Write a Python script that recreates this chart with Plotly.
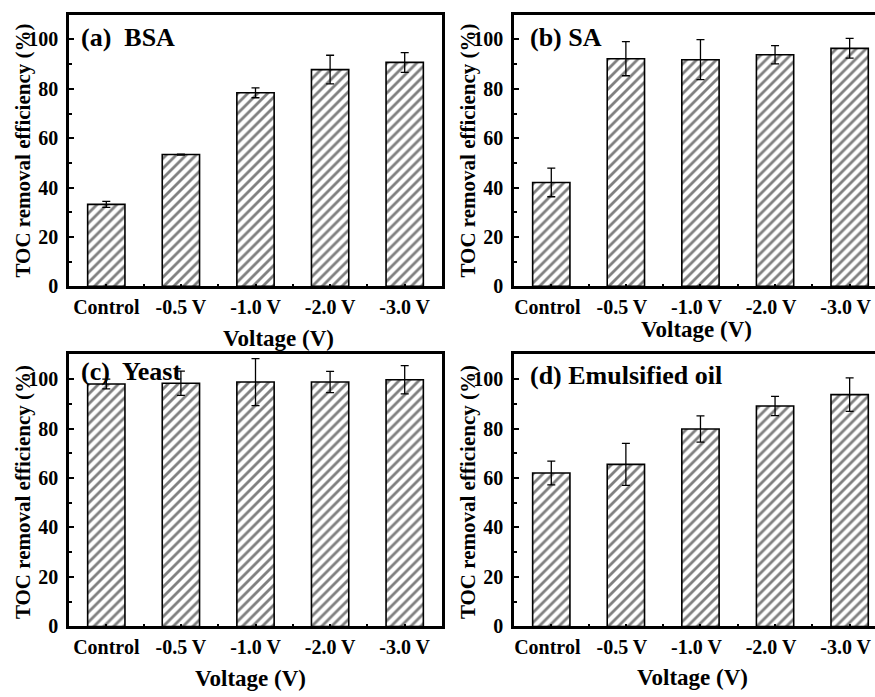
import plotly.graph_objects as go

categories = ["Control", "-0.5 V", "-1.0 V", "-2.0 V", "-3.0 V"]
bsa = [33.2, 53.4, 78.4, 87.8, 90.7]
bsa_err = [1.2, 0.2, 2.0, 5.8, 4.0]
sa = [42.1, 92.2, 91.8, 93.8, 96.4]
sa_err = [5.8, 6.9, 8.1, 3.7, 4.0]
yeast = [98.0, 98.3, 98.8, 98.8, 99.7]
yeast_err = [2.0, 4.9, 9.5, 4.3, 5.7]
oil = [62.0, 65.5, 79.8, 89.1, 93.7]
oil_err = [4.8, 8.5, 5.3, 3.9, 6.8]
y_ticks = [0, 20, 40, 60, 80, 100]

panel_labels = ["(a)  BSA", "(b) SA", "(c)  Yeast", "(d) Emulsified oil"]
y_title = "TOC removal efficiency (%)"
x_title = "Voltage (V)"

W, H = 875, 697
FONT = "Liberation Serif"

def px_x(p):
    return p / W

def px_y(p):
    return 1 - p / H

def bold(s):
    return "<b>" + s + "</b>"

panels = [
    dict(l=69, r=442, t=15, b=291, xmax=4.5, mirror_y=True, shift=0,
         lab=(79, 38), ytit=(23, 153), xtit=(278, 344)),
    dict(l=514, r=875, t=15, b=291, xmax=4.34, mirror_y=False, shift=-4,
         lab=(528, 38), ytit=(468, 153), xtit=(696, 335)),
    dict(l=69, r=442, t=360, b=636.5, xmax=4.5, mirror_y=True, shift=0,
         lab=(79, 377), ytit=(23, 500), xtit=(250, 689)),
    dict(l=514, r=875, t=360, b=636.5, xmax=4.34, mirror_y=False, shift=-4,
         lab=(528, 382), ytit=(468, 500), xtit=(692, 688)),
]
series = [(bsa, bsa_err), (sa, sa_err), (yeast, yeast_err), (oil, oil_err)]

fig = go.Figure()
xpos = list(range(len(categories)))

for i, (p, (vals, errs)) in enumerate(zip(panels, series)):
    n = "" if i == 0 else str(i + 1)
    fig.add_trace(go.Bar(
        x=xpos, y=vals, width=0.5,
        xaxis="x" + n, yaxis="y" + n,
        marker=dict(color="white",
                    line=dict(color="black", width=1.6),
                    pattern=dict(shape="/", fgcolor="black", bgcolor="white",
                                 size=7, solidity=0.4)),
        error_y=dict(type="data", array=errs, visible=True,
                     color="black", thickness=1.3, width=4),
        showlegend=False,
    ))
    fig.update_layout({
        "xaxis" + n: dict(
            domain=[px_x(p["l"]), px_x(p["r"])],
            anchor="y" + n,
            range=[-0.5, p["xmax"]],
            tickvals=xpos, ticktext=[bold(c) for c in categories],
            ticks="inside", ticklen=3, tickwidth=1.5, tickcolor="black",
            minor=dict(tickvals=[k + 0.5 for k in xpos[:-1]], ticks="inside",
                       ticklen=3, tickwidth=1.5, tickcolor="black"),
            showline=True, linecolor="black", linewidth=2.5, mirror=True,
            showgrid=False, zeroline=False,
            tickfont=dict(family=FONT, size=20, color="black"),
            ticklabelshift=p["shift"], ticklabelstandoff=1,
            ticklabeloverflow="allow",
        ),
        "yaxis" + n: dict(
            domain=[px_y(p["b"]), px_y(p["t"])],
            anchor="x" + n,
            range=[0, 110],
            tickvals=y_ticks, ticktext=[bold(str(v)) for v in y_ticks],
            ticks="inside", ticklen=5, tickwidth=1.5, tickcolor="black",
            minor=dict(tickvals=[10, 30, 50, 70, 90], ticks="inside",
                       ticklen=3, tickwidth=1.5, tickcolor="black"),
            showline=True, linecolor="black", linewidth=2.5,
            mirror=p["mirror_y"],
            showgrid=False, zeroline=False,
            tickfont=dict(family=FONT, size=20, color="black"),
            ticklabelstandoff=4,
        ),
    })
    fig.add_annotation(x=px_x(p["lab"][0]), y=px_y(p["lab"][1]),
                       xref="paper", yref="paper", xanchor="left", yanchor="middle",
                       text=bold(panel_labels[i].replace("  ", "&nbsp; ")), showarrow=False,
                       font=dict(family=FONT, size=26, color="black"))
    fig.add_annotation(x=px_x(p["ytit"][0]), y=px_y(p["ytit"][1]),
                       xref="paper", yref="paper", xanchor="center", yanchor="middle",
                       text=bold(y_title), textangle=-90, showarrow=False,
                       font=dict(family=FONT, size=21, color="black"))
    fig.add_annotation(x=px_x(p["xtit"][0]), y=px_y(p["xtit"][1]),
                       xref="paper", yref="paper", xanchor="center", yanchor="middle",
                       text=bold(x_title), showarrow=False,
                       font=dict(family=FONT, size=23, color="black"))

fig.update_layout(
    width=W, height=H,
    margin=dict(l=0, r=0, t=0, b=0),
    paper_bgcolor="white", plot_bgcolor="white",
    bargap=0.5,
)

fig.write_html("out.html",
               config={"displayModeBar": False},
               post_script="document.body.style.margin='0';document.body.style.overflow='hidden';")
